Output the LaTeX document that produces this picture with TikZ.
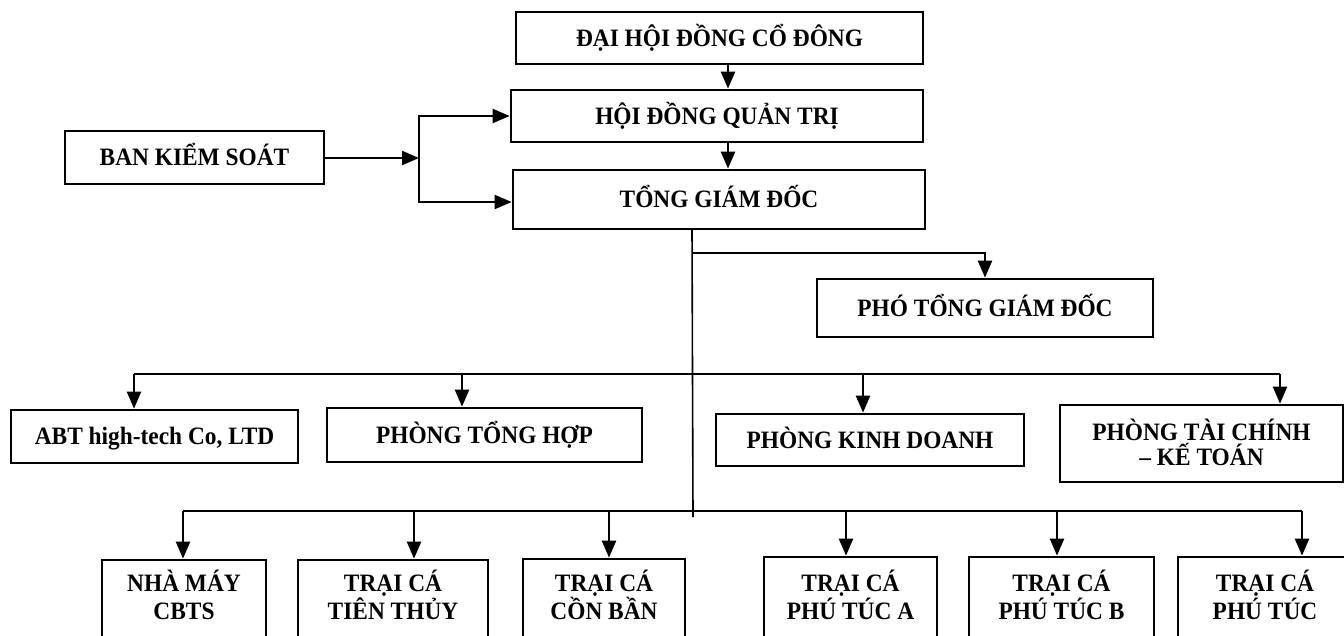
\documentclass[tikz,border=0pt]{standalone}
\usepackage{fontspec}
\setmainfont{Liberation Serif}[FakeStretch=0.935]
\usetikzlibrary{arrows.meta}
\tikzset{
  orgbox/.style={draw, line width=2.7pt, inner sep=0pt, align=center,
    font=\fontsize{25}{27}\selectfont\bfseries},
  onebox/.style={orgbox, text height=16.5pt, text depth=0pt},
  farmbox/.style={draw, line width=2.7pt, inner sep=0pt},
  farmtext/.style={inner sep=0pt, align=center, font=\fontsize{25}{27.5}\selectfont\bfseries},
  conn/.style={line width=2.3pt},
  trunkline/.style={line width=1.6pt},
  arr/.style={conn, -{Triangle[length=17pt,width=14pt]}}
}
\begin{document}
\begin{tikzpicture}[x=1pt,y=-1pt]
\useasboundingbox (0,0) rectangle (1344,635);
\fill[white] (0,0) rectangle (1344,635);
\clip (0,0) rectangle (1344,635);
% top chain
\node[onebox, minimum width=407, minimum height=52] (dh) at (719.5,38) {ĐẠI HỘI ĐỒNG CỔ ĐÔNG};
\node[onebox, minimum width=412, minimum height=52] (hdqt) at (717,116) {HỘI ĐỒNG QUẢN TRỊ};
\node[onebox, minimum width=412, minimum height=59] (tgd) at (719,199.5) {TỔNG GIÁM ĐỐC};
\node[onebox, minimum width=259, minimum height=53] (bks) at (194.5,157.5) {BAN KIỂM SOÁT};
\node[onebox, minimum width=336, minimum height=58] (ptgd) at (985,308) {PHÓ TỔNG GIÁM ĐỐC};
% departments
\node[onebox, minimum width=287, minimum height=53] (abt) at (154.5,436.5) {ABT high-tech Co, LTD};
\node[onebox, minimum width=315, minimum height=54] (pth) at (484.5,435) {PHÒNG TỔNG HỢP};
\node[onebox, minimum width=308, minimum height=52] (pkd) at (870,440) {PHÒNG KINH DOANH};
\node[farmbox, minimum width=283, minimum height=77] (ptckt) at (1201.5,443.5) {};
\node[farmtext, font=\fontsize{25}{25}\selectfont\bfseries] (ptcktT) at ([yshift=1.5pt]ptckt.center) {PHÒNG TÀI CHÍNH\\– KẾ TOÁN};
% farms (boxes run past the lower edge)
\node[farmbox, minimum width=164, minimum height=78] (cbts) at (184,599) {};
\node[farmbox, minimum width=190, minimum height=78] (tt) at (393,599) {};
\node[farmbox, minimum width=162, minimum height=79] (cb) at (604,598.5) {};
\node[farmbox, minimum width=173, minimum height=81] (pta) at (850.5,597.5) {};
\node[farmbox, minimum width=185, minimum height=81] (ptb) at (1061.5,597.5) {};
\node[farmbox, minimum width=174, minimum height=81] (pt) at (1265,597.5) {};
\node[farmtext] (cbtsT) at ([yshift=4pt]cbts.center) {NHÀ MÁY\\CBTS};
\node[farmtext] (ttT) at ([yshift=4pt]tt.center) {TRẠI CÁ\\TIÊN THỦY};
\node[farmtext] (cbT) at ([yshift=3.5pt]cb.center) {TRẠI CÁ\\CỒN BẦN};
\node[farmtext] (ptaT) at ([yshift=2.5pt]pta.center) {TRẠI CÁ\\PHÚ TÚC A};
\node[farmtext] (ptbT) at ([yshift=2.5pt]ptb.center) {TRẠI CÁ\\PHÚ TÚC B};
\node[farmtext] (ptT) at ([yshift=2.5pt]pt.center) {TRẠI CÁ\\PHÚ TÚC};
% coordinates for junctions
\coordinate (j) at (419,158);
\coordinate (trtop) at (692,229);
\coordinate (trend) at (693,517);
\coordinate (br) at (692,253);
\coordinate (busL) at (134,374);
\coordinate (busR) at (1280,374);
\coordinate (b2L) at (183,511);
\coordinate (b2R) at (1302,511);
% connectors top
\draw[arr] ([xshift=8.5pt]dh.south) -- ([xshift=8.5pt]dh.south |- hdqt.north);
\draw[arr] ([xshift=11pt]hdqt.south) -- ([xshift=11pt]hdqt.south |- tgd.north);
\draw[arr] (bks.east |- j) -- (j);
\draw[arr] (j) |- (hdqt.west);
\draw[arr] (j) |- ([yshift=-2.5pt]tgd.west);
% trunk
\draw[trunkline] (trtop) -- (trend);
\draw[arr] (br) -| (ptgd.north);
% level 2 bus
\draw[conn] (busL) -- (busR);
\draw[arr] (busL) -- (busL |- abt.north);
\draw[arr] (462,374) -- (462,0 |- pth.north);
\draw[arr] (863,374) -- (863,0 |- pkd.north);
\draw[arr] (busR) -- (busR |- ptckt.north);
% level 3 bus
\draw[conn] (b2L) -- (b2R);
\draw[arr] (b2L) -- (b2L |- cbts.north);
\draw[arr] (414,511) -- (414,0 |- tt.north);
\draw[arr] (609,511) -- (609,0 |- cb.north);
\draw[arr] (846,511) -- (846,0 |- pta.north);
\draw[arr] (1057,511) -- (1057,0 |- ptb.north);
\draw[arr] (b2R) -- (b2R |- pt.north);
\end{tikzpicture}
\end{document}
